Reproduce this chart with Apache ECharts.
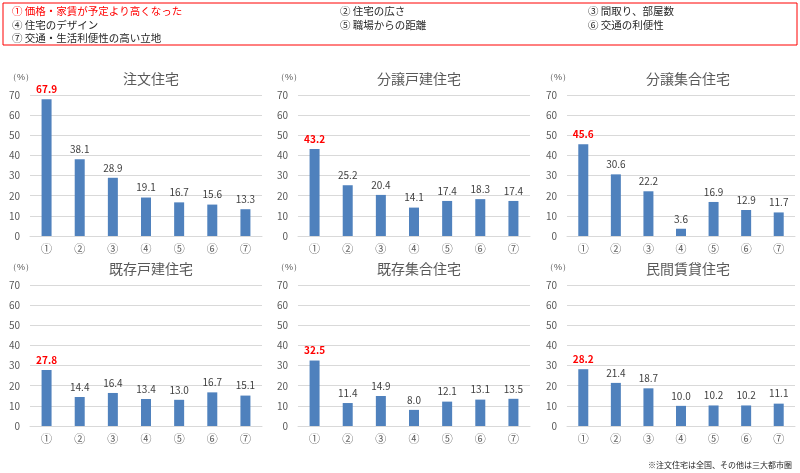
<!DOCTYPE html><html><head><meta charset="utf-8"><script src="https://cdn.jsdelivr.net/npm/echarts@6/dist/echarts.min.js"></script>
<style>body{margin:0}#c{width:800px;height:473px}</style></head><body><div id="c"></div><script>
const categories=['①','②','③','④','⑤','⑥','⑦'];
const titles=['注文住宅','分譲戸建住宅','分譲集合住宅','既存戸建住宅','既存集合住宅','民間賃貸住宅'];
const s1=[67.9,38.1,28.9,19.1,16.7,15.6,13.3];
const s2=[43.2,25.2,20.4,14.1,17.4,18.3,17.4];
const s3=[45.6,30.6,22.2,3.6,16.9,12.9,11.7];
const s4=[27.8,14.4,16.4,13.4,13.0,16.7,15.1];
const s5=[32.5,11.4,14.9,8.0,12.1,13.1,13.5];
const s6=[28.2,21.4,18.7,10.0,10.2,10.2,11.1];
const yTicks=[0,10,20,30,40,50,60,70];
const legendItems=['① 価格・家賃が予定より高くなった','② 住宅の広さ','③ 間取り、部屋数','④ 住宅のデザイン','⑤ 職場からの距離','⑥ 交通の利便性','⑦ 交通・生活利便性の高い立地'];
const data=[s1,s2,s3,s4,s5,s6];
const F='"Noto Sans CJK JP",sans-serif';
const lefts=[30,298,567],rights=[538,270,5],tops=[95,285];
const grid=[],xAxis=[],yAxis=[],series=[],title=[],graphic=[];
data.forEach((d,i)=>{const c=i%3,r=Math.floor(i/3);
grid.push({left:lefts[c],width:[232,232,228][c],top:tops[r],height:141});
xAxis.push({gridIndex:i,type:'category',data:categories,axisTick:{show:false},axisLine:{lineStyle:{color:'#d9d9d9'}},axisLabel:{color:'#595959',fontSize:11,margin:7}});
yAxis.push({gridIndex:i,type:'value',min:0,max:70,interval:10,splitLine:{lineStyle:{color:'#d9d9d9'}},axisLabel:{color:'#595959',fontSize:10,margin:10}});
series.push({type:'bar',xAxisIndex:i,yAxisIndex:i,data:d.map((v,j)=>({value:v,label:{color:j==0?'#ff0000':'#404040',fontWeight:j==0?'bold':'normal'}})),barWidth:10,itemStyle:{color:'#4f81bd'},label:{show:true,position:'top',fontSize:10,formatter:p=>p.value.toFixed(1)}});
title.push({text:titles[i],left:lefts[c]+116,top:tops[r]-28,textAlign:'center',textStyle:{fontSize:14,fontWeight:'normal',color:'#595959',fontFamily:F}});
graphic.push({type:'text',left:lefts[c]-22,top:tops[r]-22,style:{text:'（%）',fontSize:9,fill:'#595959'}});
});
graphic.push({type:'rect',shape:{x:3,y:3,width:794,height:42},style:{fill:'none',stroke:'#ff0000',lineWidth:1}});
const lx=[12,340,588];
legendItems.forEach((t,k)=>{graphic.push({type:'text',x:lx[k%3],y:6+Math.floor(k/3)*13.5,style:{text:t,fontSize:10.5,fontFamily:F,fill:k==0?'#ff0000':'#262626'}})});
graphic.push({type:'text',right:8,bottom:4,style:{text:'※注文住宅は全国、その他は三大都市圏',fontSize:8,fontFamily:F,fill:'#262626'}});
const ch=echarts.init(document.getElementById('c'));
ch.setOption({animation:false,textStyle:{fontFamily:F},grid,xAxis,yAxis,series,title,graphic});
</script></body></html>
